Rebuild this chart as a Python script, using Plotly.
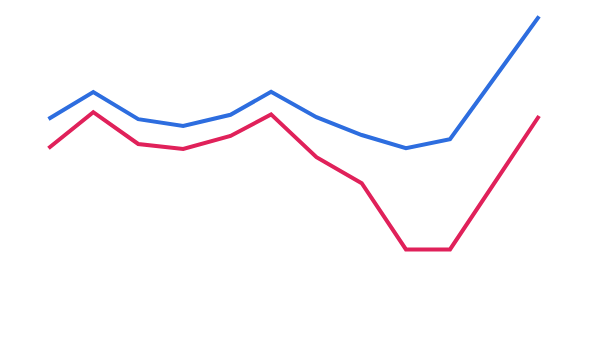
import plotly.graph_objects as go

day_offsets = [0, 30.6, 61.3, 92.0, 124.3, 152.0, 183.0, 213.9, 244.1, 274.2, 335.0]
blue_values = [90.5, 104.0, 90.4, 87.0, 92.6, 104.1, 91.4, 82.5, 75.9, 80.4, 141.8]
red_values = [75.9, 93.9, 78.0, 75.5, 82.0, 92.8, 71.4, 58.4, 25.3, 25.3, 92.0]

fig = go.Figure()
fig.add_trace(go.Scatter(x=day_offsets, y=blue_values, mode="lines",
                         line=dict(color="#2d6ddf", width=4)))
fig.add_trace(go.Scatter(x=day_offsets, y=red_values, mode="lines",
                         line=dict(color="#e0215a", width=4)))

fig.update_layout(
    width=589, height=348,
    margin=dict(l=0, r=0, t=0, b=0),
    showlegend=False,
    paper_bgcolor="white", plot_bgcolor="white",
    xaxis=dict(visible=False, range=[-33.1, 369.1]),
    yaxis=dict(visible=False, range=[-24, 150]),
)
fig.write_html("out.html")
